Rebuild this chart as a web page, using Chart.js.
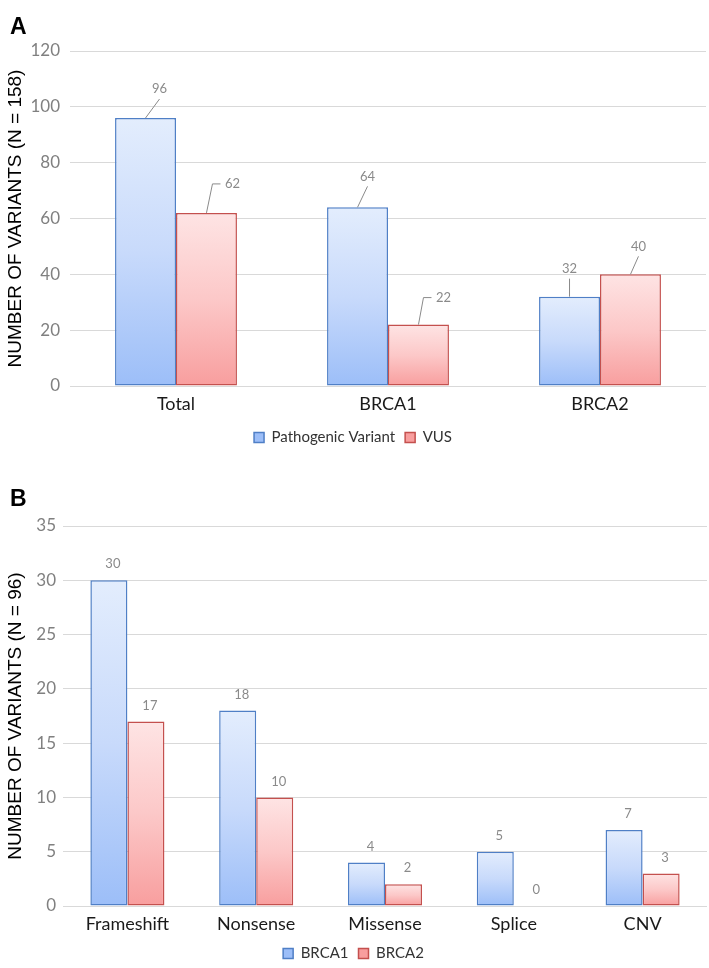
<!DOCTYPE html>
<html>
<head>
<meta charset="utf-8">
<script src="https://cdn.jsdelivr.net/npm/chart.js@4.4.1/dist/chart.umd.min.js"></script>
<style>
  html, body { margin: 0; padding: 0; background: #fff; }
  body { width: 709px; height: 968px; overflow: hidden; position: relative; }
  .wrap { position: absolute; left: 0; width: 709px; }
  .panel { position: absolute; left: 10px; font: bold 23px 'Liberation Sans', Arial, sans-serif; color: #000; }
</style>
</head>
<body>
<div class="wrap" style="top:0;height:470px"><canvas id="chartA"></canvas></div>
<div class="wrap" style="top:470px;height:503px"><canvas id="chartB"></canvas></div>
<div class="panel" style="top:13px">A</div>
<div class="panel" style="top:485px">B</div>

<script>
// ── Data ────────────────────────────────────────────────
const groupsA     = ['Total', 'BRCA1', 'BRCA2'];
const pathogenicA = [96, 64, 32];
const vusA        = [62, 22, 40];
const yMaxA = 120, yStepA = 20;

const typesB = ['Frameshift', 'Nonsense', 'Missense', 'Splice', 'CNV'];
const brca1B = [30, 18, 4, 5, 7];
const brca2B = [17, 10, 2, 0, 3];
const yMaxB = 35, yStepB = 5;

// ── Styles ──────────────────────────────────────────────
const BLUE = { stops: ['#e3edfd', '#c8dafb', '#9cbef8'], border: '#4f7fc6' };
const RED  = { stops: ['#fee4e4', '#fcc8c8', '#f89e9e'], border: '#c4504e' };
const SANS = 'Lato, "Open Sans", sans-serif';
const GRID = '#d9d9d9';

// label placement for panel A: [dx, dy, leader style] per dataset / bar
const leadersA = [
  [[14, -29, 'line'], [10, -31, 'line'], [0, -28, 'line']],
  [[26, -29, 'hook'], [25, -27, 'hook'], [8, -28, 'line']],
];

function barFill(stops) {
  return ctx => {
    const chart = ctx.chart;
    if (ctx.type !== 'data' || !chart.chartArea) return stops[1];
    const y = chart.scales.y;
    const top = y.getPixelForValue(ctx.raw);
    const bottom = y.getPixelForValue(0);
    if (bottom - top < 1) return stops[1];
    const g = chart.ctx.createLinearGradient(0, top, 0, bottom);
    g.addColorStop(0, stops[0]);
    g.addColorStop(0.5, stops[1]);
    g.addColorStop(1, stops[2]);
    return g;
  };
}

function dataset(label, data, pal) {
  return {
    label, data,
    backgroundColor: barFill(pal.stops),
    borderColor: pal.border,
    borderWidth: ctx => (ctx.type === 'data' && ctx.raw === 0 ? 0 : 1.5),
    borderSkipped: false,
    categoryPercentage: 0.575,
    barPercentage: 1.0,
  };
}

// ── Value labels (with optional leader lines) ───────────
const valueLabels = {
  id: 'valueLabels',
  afterDatasetsDraw(chart, args, opts) {
    const ctx = chart.ctx;
    ctx.save();
    ctx.font = '13px ' + SANS;
    ctx.fillStyle = '#8a8a8a';
    ctx.strokeStyle = '#8a8a8a';
    ctx.lineWidth = 1;
    ctx.textAlign = 'center';
    ctx.textBaseline = 'middle';
    chart.data.datasets.forEach((ds, di) => {
      chart.getDatasetMeta(di).data.forEach((bar, i) => {
        const spec = opts.leaders ? opts.leaders[di][i] : [opts.dx, opts.dy, null];
        const lx = bar.x + spec[0], ly = bar.y + spec[1];
        if (spec[2] === 'line') {
          ctx.beginPath(); ctx.moveTo(bar.x, bar.y); ctx.lineTo(lx, ly + 10); ctx.stroke();
        } else if (spec[2] === 'hook') {
          ctx.beginPath(); ctx.moveTo(bar.x, bar.y); ctx.lineTo(lx - 20, ly); ctx.lineTo(lx - 12, ly); ctx.stroke();
        }
        ctx.fillText(String(ds.data[i]), lx, ly);
      });
    });
    ctx.restore();
  }
};

function makeChart(id, labels, datasets, o) {
  return new Chart(document.getElementById(id), {
    type: 'bar',
    data: { labels, datasets },
    plugins: [valueLabels],
    options: {
      responsive: true, maintainAspectRatio: false, animation: false,
      layout: { padding: { top: o.padTop, right: o.padRight, bottom: o.padBottom, left: 0 } },
      plugins: {
        tooltip: { enabled: false },
        legend: {
          position: 'bottom',
          labels: { boxWidth: 10, boxHeight: 10, padding: 10, color: '#333', font: { family: SANS, size: 15 } },
        },
        valueLabels: o.labels,
      },
      scales: {
        x: {
          grid: { display: false, drawTicks: false },
          border: { display: false },
          ticks: { color: '#1a1a1a', padding: 7, font: { family: SANS, size: 18 } },
          afterFit: s => { s.height = o.xHeight; },
        },
        y: {
          min: 0, max: o.yMax,
          grid: { color: GRID, lineWidth: 1, drawTicks: false },
          border: { display: false },
          ticks: { stepSize: o.yStep, color: '#808080', padding: o.tickPad, font: { family: SANS, size: 17 } },
          title: {
            display: true, text: o.yTitle, color: '#000',
            font: { family: "'Liberation Sans', Arial, sans-serif", size: 19 },
            padding: { top: 4, bottom: 0 },
          },
          afterFit: s => { s.width = o.yWidth; },
        },
      },
    },
  });
}

makeChart('chartA', groupsA, [
  dataset('Pathogenic Variant', pathogenicA, BLUE),
  dataset('VUS', vusA, RED),
], {
  padTop: 51, padRight: 3, padBottom: 15, xHeight: 34, yWidth: 70, tickPad: 10,
  yMax: yMaxA, yStep: yStepA, yTitle: 'NUMBER OF VARIANTS (N = 158)',
  labels: { leaders: leadersA },
});

makeChart('chartB', typesB, [
  dataset('BRCA1', brca1B, BLUE),
  dataset('BRCA2', brca2B, RED),
], {
  padTop: 56, padRight: 2, padBottom: 2, xHeight: 30, yWidth: 63, tickPad: 7,
  yMax: yMaxB, yStep: yStepB, yTitle: 'NUMBER OF VARIANTS (N = 96)',
  labels: { dx: 4, dy: -16 },
});
</script>
</body>
</html>
